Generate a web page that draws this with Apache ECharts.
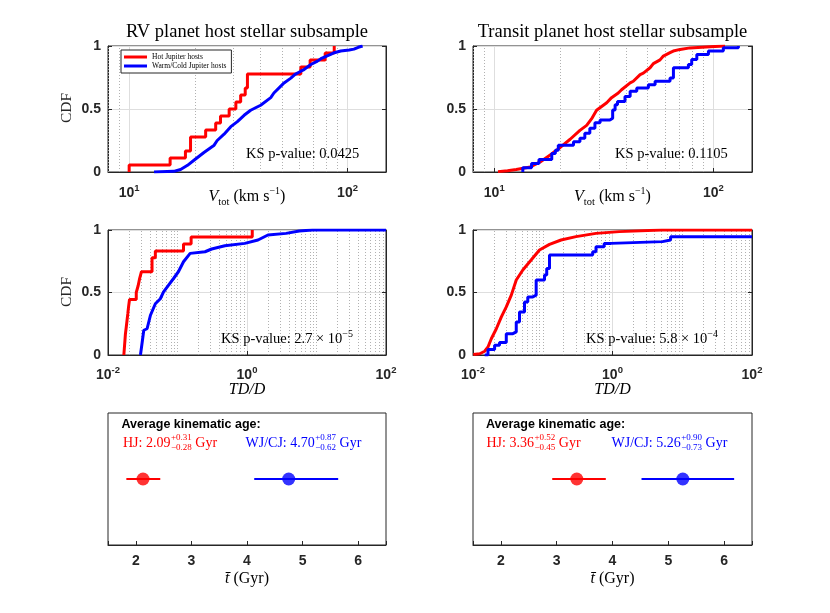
<!DOCTYPE html>
<html>
<head>
<meta charset="utf-8">
<script src="https://cdn.jsdelivr.net/npm/echarts@6/dist/echarts.min.js"></script>
<style>
html, body { margin: 0; padding: 0; background: #fff; }
#chart { width: 830px; height: 613px; }
</style>
</head>
<body>
<div id="chart"></div>
<script>
// ---- data: [x, cdf] ----
var rvVtotHJ = [[10.0, 0], [10.0, 0.056], [15.4, 0.111], [18.1, 0.167], [19.1, 0.278], [22.4, 0.333],
    [24.9, 0.389], [26.2, 0.444], [28.7, 0.5], [30.8, 0.556], [32.4, 0.611], [34.0, 0.667], [34.8, 0.778],
    [61.1, 0.833], [67.4, 0.889], [79.0, 0.944], [86.9, 1.0]];
var rvVtotWJ = [[13.0, 0], [16.0, 0.005], [17.2, 0.02], [18.5, 0.053], [19.8, 0.093], [22.0, 0.155],
    [24.5, 0.213], [25.3, 0.25], [27.2, 0.3], [29.2, 0.36], [31.3, 0.4], [33.6, 0.45], [36.0, 0.49],
    [40.0, 0.53], [44.5, 0.59], [46.0, 0.627], [51.2, 0.707], [55.0, 0.745], [57.5, 0.775], [61.1, 0.8],
    [63.2, 0.813], [67.9, 0.853], [72.8, 0.88], [75.5, 0.899], [83.7, 0.933], [87.0, 0.947], [93.0, 0.96],
    [101.8, 0.968], [107.0, 0.975], [112.0, 0.99], [117.2, 1.0]];
var trVtotHJ = [[10.4, 0.003], [11.5, 0.01], [12.6, 0.02], [14.6, 0.04], [16.2, 0.08], [18.0, 0.135],
    [20.0, 0.195], [22.2, 0.26], [24.6, 0.33], [26.4, 0.37], [28.0, 0.43], [29.3, 0.49], [30.9, 0.52],
    [32.6, 0.55], [34.3, 0.59], [36.8, 0.627], [38.1, 0.653], [41.7, 0.707], [43.1, 0.72], [46.3, 0.773],
    [47.9, 0.785], [51.4, 0.827], [53.2, 0.86], [57.1, 0.89], [59.1, 0.92], [63.4, 0.947], [65.6, 0.96],
    [70.5, 0.973], [78.2, 0.985], [96.6, 0.995], [113.0, 1.0]];
var trVtotWJ = [[13.5, 0], [13.5, 0.033], [14.8, 0.067], [16.0, 0.1], [18.3, 0.147], [19.0, 0.173],
    [19.6, 0.213], [23.0, 0.24], [24.6, 0.267], [25.9, 0.307], [27.3, 0.347], [28.8, 0.39], [30.4, 0.413],
    [33.7, 0.427], [34.7, 0.493], [35.6, 0.533], [36.5, 0.56], [39.5, 0.6], [41.7, 0.64], [44.7, 0.667],
    [50.5, 0.693], [54.2, 0.72], [63.4, 0.747], [65.7, 0.827], [76.9, 0.853], [79.6, 0.893], [84.0, 0.933],
    [94.9, 0.96], [111.0, 0.987], [130.0, 1.0]];
var rvTdHJ = [[0.0169, 0], [0.0172, 0.056], [0.0175, 0.111], [0.0178, 0.167], [0.0183, 0.222],
    [0.0188, 0.278], [0.0193, 0.333], [0.0198, 0.389], [0.0204, 0.444], [0.0255, 0.5], [0.0272, 0.556],
    [0.0285, 0.611], [0.0303, 0.667], [0.043, 0.778], [0.048, 0.833], [0.122, 0.889], [0.157, 0.944],
    [1.19, 1.0]];
var rvTdWJ = [[0.0293, 0], [0.031, 0.1], [0.0327, 0.198], [0.0365, 0.21], [0.0408, 0.318], [0.048, 0.41],
    [0.0566, 0.45], [0.063, 0.505], [0.0744, 0.559], [0.0877, 0.612], [0.103, 0.666], [0.122, 0.746],
    [0.152, 0.813], [0.249, 0.826], [0.31, 0.848], [0.48, 0.874], [0.93, 0.893], [1.44, 0.92], [2.0, 0.96],
    [3.65, 0.973], [5.66, 0.992], [8.8, 1.0], [100, 1.0]];
var trTdHJ = [[0.0101, 0.004], [0.0125, 0.01], [0.0147, 0.03], [0.0164, 0.064], [0.0183, 0.13],
    [0.0216, 0.21], [0.0255, 0.305], [0.030, 0.385], [0.0354, 0.479], [0.0417, 0.6], [0.0518, 0.68],
    [0.0682, 0.76], [0.0897, 0.84], [0.125, 0.885], [0.183, 0.92], [0.30, 0.947], [0.58, 0.973],
    [1.25, 0.987], [5.1, 1.0], [100, 1.0]];
var trTdWJ = [[0.0147, 0], [0.0164, 0.045], [0.0204, 0.078], [0.024, 0.1], [0.030, 0.171], [0.0373, 0.185],
    [0.0417, 0.265], [0.0464, 0.345], [0.0548, 0.425], [0.061, 0.465], [0.072, 0.479], [0.0805, 0.6],
    [0.106, 0.64], [0.114, 0.693], [0.125, 0.8], [0.52, 0.826], [0.58, 0.866], [0.76, 0.893], [0.95, 0.907],
    [5.2, 0.92], [6.8, 0.947], [100, 0.947]];

// kinematic ages: [plotted point, lower end, upper end]
var rvAgeHJ = [2.13, 1.83, 2.44];
var rvAgeWJ = [4.75, 4.13, 5.64];
var trAgeHJ = [3.36, 2.92, 3.88];
var trAgeWJ = [5.26, 4.52, 6.18];
// age labels: [value, +err, -err]
var rvAgeHJText = ['2.09', '+0.31', '\u22120.28'];
var rvAgeWJText = ['4.70', '+0.87', '\u22120.62'];
var trAgeHJText = ['3.36', '+0.52', '\u22120.45'];
var trAgeWJText = ['5.26', '+0.90', '\u22120.73'];

var ksText = ['0.0425', '0.1105', ['2.7', '\u22125'], ['5.8', '\u22124']];

// minor (dotted) grid positions on the log axes
var vtotMinor = [8, 9, 20, 30, 40, 50, 60, 70, 80, 90];
var tdMinor = [0.02, 0.03, 0.04, 0.05, 0.06, 0.07, 0.08, 0.09, 0.1, 0.2, 0.3, 0.4, 0.5, 0.6, 0.7, 0.8, 0.9,
    2, 3, 4, 5, 6, 7, 8, 9, 10, 20, 30, 40, 50, 60, 70, 80, 90];

var RED = '#ff0000';
var BLUE = '#0000ff';
var INK = '#262626';
var SERIF = 'Liberation Serif';
var SANS = 'Liberation Sans';

var grids = [
    { left: 108, top: 46, width: 278, height: 126 },
    { left: 473, top: 46, width: 279, height: 126 },
    { left: 108, top: 230, width: 278, height: 125 },
    { left: 473, top: 230, width: 279, height: 125 },
    { left: 108, top: 413, width: 278, height: 132 },
    { left: 473, top: 413, width: 279, height: 132 }
].map(function (g) {
    return Object.assign({ show: true, borderColor: INK, borderWidth: 1, containLabel: false }, g);
});

var tickRich = {
    b: { fontSize: 14, fontWeight: 'bold', fontFamily: SANS, color: INK, lineHeight: 20 },
    s: { fontSize: 9.5, fontWeight: 'bold', fontFamily: SANS, color: INK, verticalAlign: 'top', lineHeight: 9 }
};

function logLabel(v) {
    var l = Math.log10(v);
    var e = Math.round(l);
    if (Math.abs(l - e) > 1e-6) {
        return '';
    }
    return '{b|10}{s|' + e + '}';
}

function logAxis(i, min, max, interval) {
    var ax = {
        type: 'log',
        logBase: 10,
        gridIndex: i,
        min: min,
        max: max,
        axisLine: { show: true, onZero: false, lineStyle: { color: INK } },
        axisTick: { show: true, inside: true, length: 4, lineStyle: { color: INK } },
        axisLabel: { formatter: logLabel, rich: tickRich, margin: 11, showMinLabel: true, showMaxLabel: true },
        splitLine: { show: true, lineStyle: { color: '#dedede', width: 1 } }
    };
    if (interval) {
        ax.interval = interval;
    }
    return ax;
}

function ageAxis(i) {
    return {
        type: 'value',
        gridIndex: i,
        min: 1.5,
        max: 6.5,
        axisLine: { show: true, onZero: false, lineStyle: { color: INK } },
        axisTick: { show: true, inside: true, length: 4, lineStyle: { color: INK } },
        axisLabel: {
            color: INK, fontFamily: SANS, fontWeight: 'bold', fontSize: 14, margin: 9,
            formatter: function (v) { return Number.isInteger(v) ? String(v) : ''; }
        },
        splitLine: { show: false }
    };
}

function cdfAxis(i) {
    return {
        type: 'value',
        gridIndex: i,
        min: 0,
        max: 1,
        interval: 0.5,
        axisLine: { show: true, lineStyle: { color: INK } },
        axisTick: { show: true, inside: true, length: 4, lineStyle: { color: INK } },
        axisLabel: { color: INK, fontFamily: SANS, fontWeight: 'bold', fontSize: 14, margin: 7 },
        splitLine: { show: true, lineStyle: { color: '#dedede', width: 1 } }
    };
}

function mirrorAxis(i) {
    return {
        type: 'value',
        gridIndex: i,
        position: 'right',
        min: 0,
        max: 1,
        interval: 0.5,
        axisLine: { show: true, lineStyle: { color: INK } },
        axisTick: { show: true, inside: true, length: 4, lineStyle: { color: INK } },
        axisLabel: { show: false },
        splitLine: { show: false }
    };
}

var xAxes = [
    logAxis(0, 8, 150), logAxis(1, 8, 150),
    logAxis(2, 0.01, 100, 2), logAxis(3, 0.01, 100, 2),
    ageAxis(4), ageAxis(5)
];
xAxes[2].axisLabel.margin = 10;
xAxes[3].axisLabel.margin = 10;

var yAxes = [
    cdfAxis(0), cdfAxis(1), cdfAxis(2), cdfAxis(3),
    { type: 'value', gridIndex: 4, min: 0, max: 1, show: false },
    { type: 'value', gridIndex: 5, min: 0, max: 1, show: false },
    mirrorAxis(0), mirrorAxis(1), mirrorAxis(2), mirrorAxis(3)
];

function minorGrid(values) {
    return {
        silent: true,
        symbol: ['none', 'none'],
        z: 1,
        animation: false,
        label: { show: false },
        emphasis: { disabled: true },
        lineStyle: { type: [1, 2], color: '#a8a8a8', width: 0.9 },
        data: values.map(function (v) { return { xAxis: v }; })
    };
}

function cdf(name, color, data, idx, step, minor) {
    var s = {
        name: name,
        type: 'line',
        xAxisIndex: idx,
        yAxisIndex: idx,
        data: data,
        step: step ? 'end' : false,
        showSymbol: false,
        symbol: 'none',
        lineStyle: { color: color, width: 3 },
        itemStyle: { color: color },
        z: 3
    };
    if (minor) {
        s.markLine = minorGrid(minor);
    }
    return s;
}

function ageSeries(color, age, idx) {
    return [
        {
            name: 'age bar', type: 'line', xAxisIndex: idx, yAxisIndex: idx,
            data: [[age[1], 0.5], [age[2], 0.5]],
            symbol: 'none', lineStyle: { color: color, width: 2 }, z: 3
        },
        {
            name: 'age', type: 'scatter', xAxisIndex: idx, yAxisIndex: idx,
            data: [[age[0], 0.5]],
            symbolSize: 13, itemStyle: { color: color }, z: 4
        }
    ];
}

var HJ = 'Hot Jupiter hosts';
var WJ = 'Warm/Cold Jupiter hosts';

var series = [
    cdf(HJ, RED, rvVtotHJ, 0, true, vtotMinor),
    cdf(WJ, BLUE, rvVtotWJ, 0, false),
    cdf(HJ, RED, trVtotHJ, 1, false, vtotMinor),
    cdf(WJ, BLUE, trVtotWJ, 1, true),
    cdf(HJ, RED, rvTdHJ, 2, true, tdMinor),
    cdf(WJ, BLUE, rvTdWJ, 2, false),
    cdf(HJ, RED, trTdHJ, 3, false, tdMinor),
    cdf(WJ, BLUE, trTdWJ, 3, true)
].concat(
    ageSeries(RED, rvAgeHJ, 4), ageSeries(BLUE, rvAgeWJ, 4),
    ageSeries(RED, trAgeHJ, 5), ageSeries(BLUE, trAgeWJ, 5)
);

// ---- text elements ----
var graphics = [];
function txt(x, y, text, st, extra) {
    graphics.push(Object.assign({
        type: 'text', x: x, y: y, silent: true, z: 10,
        style: Object.assign({ text: text, fill: '#000', align: 'left', verticalAlign: 'middle' }, st)
    }, extra || {}));
}

var measureCtx = document.createElement('canvas').getContext('2d');
function textWidth(s, size) {
    measureCtx.font = size + 'px "' + SERIF + '"';
    return measureCtx.measureText(s).width;
}

var serifRich = {
    n: { fontFamily: SERIF, fontSize: 14.5, color: '#000', lineHeight: 20 },
    i: { fontFamily: SERIF, fontSize: 16, fontStyle: 'italic', color: INK, lineHeight: 22 },
    r: { fontFamily: SERIF, fontSize: 16, color: INK, lineHeight: 22 },
    s: { fontFamily: SERIF, fontSize: 10, color: '#000', verticalAlign: 'top', lineHeight: 10 },
    u: { fontFamily: SERIF, fontSize: 10.5, color: INK, verticalAlign: 'bottom', lineHeight: 14 }
};

txt(247, 32, 'RV planet host stellar subsample', { align: 'center', fontFamily: SERIF, fontSize: 18.5 });
txt(612.5, 32, 'Transit planet host stellar subsample', { align: 'center', fontFamily: SERIF, fontSize: 18.5 });

txt(67, 108, 'CDF', { align: 'center', fontFamily: SERIF, fontSize: 15.5, fill: INK }, { rotation: Math.PI / 2 });
txt(67, 292, 'CDF', { align: 'center', fontFamily: SERIF, fontSize: 15.5, fill: INK }, { rotation: Math.PI / 2 });

[247, 612.5].forEach(function (cx) {
    txt(cx, 197, '{i|V}{u|tot}{r| (km s}{s|\u22121}{r|)}', { align: 'center', rich: serifRich });
    txt(cx, 390, '{i|TD/D}', { align: 'center', rich: serifRich });
    txt(cx, 579, '{i|t\u0304}{r| (Gyr)}', { align: 'center', rich: serifRich });
});

txt(246, 154, '{n|KS p-value: ' + ksText[0] + '}', { rich: serifRich });
txt(615, 154, '{n|KS p-value: ' + ksText[1] + '}', { rich: serifRich });
txt(221, 339, '{n|KS p-value: ' + ksText[2][0] + ' \u00d7 10}{s|' + ksText[2][1] + '}', { rich: serifRich });
txt(586, 339, '{n|KS p-value: ' + ksText[3][0] + ' \u00d7 10}{s|' + ksText[3][1] + '}', { rich: serifRich });

// value with stacked +/- errors, then "Gyr"
function ageLabel(x, label, vals, color) {
    var mainSize = 14;
    var smallSize = 9;
    var head = label + vals[0];
    var w = textWidth(head, mainSize);
    var ew = Math.max(textWidth(vals[1], smallSize), textWidth(vals[2], smallSize));
    var main = { fontFamily: SERIF, fontSize: mainSize, fill: color };
    var small = { fontFamily: SERIF, fontSize: smallSize, fill: color };
    txt(x, 443, head, main);
    txt(x + w + 0.5, 438, vals[1], small);
    txt(x + w + 0.5, 447.5, vals[2], small);
    txt(x + w + ew + 4, 443, 'Gyr', main);
}

var headStyle = { fontFamily: SANS, fontWeight: 'bold', fontSize: 12.5, fill: '#000' };
txt(121.5, 425, 'Average kinematic age:', headStyle);
ageLabel(123, 'HJ: ', rvAgeHJText, RED);
ageLabel(245.5, 'WJ/CJ: ', rvAgeWJText, BLUE);
txt(486, 425, 'Average kinematic age:', headStyle);
ageLabel(486.5, 'HJ: ', trAgeHJText, RED);
ageLabel(611.5, 'WJ/CJ: ', trAgeWJText, BLUE);

var chart = echarts.init(document.getElementById('chart'));
chart.setOption({
    backgroundColor: '#fff',
    animation: false,
    legend: {
        show: true,
        left: 121,
        top: 50,
        orient: 'vertical',
        itemGap: 1,
        itemWidth: 23,
        itemHeight: 3,
        padding: [3, 5, 3, 3],
        borderColor: INK,
        borderWidth: 1,
        backgroundColor: '#fff',
        textStyle: { fontFamily: SERIF, fontSize: 7.5, color: '#000' },
        data: [{ name: HJ, icon: 'rect' }, { name: WJ, icon: 'rect' }]
    },
    grid: grids,
    xAxis: xAxes,
    yAxis: yAxes,
    series: series,
    graphic: graphics
});
</script>
</body>
</html>
